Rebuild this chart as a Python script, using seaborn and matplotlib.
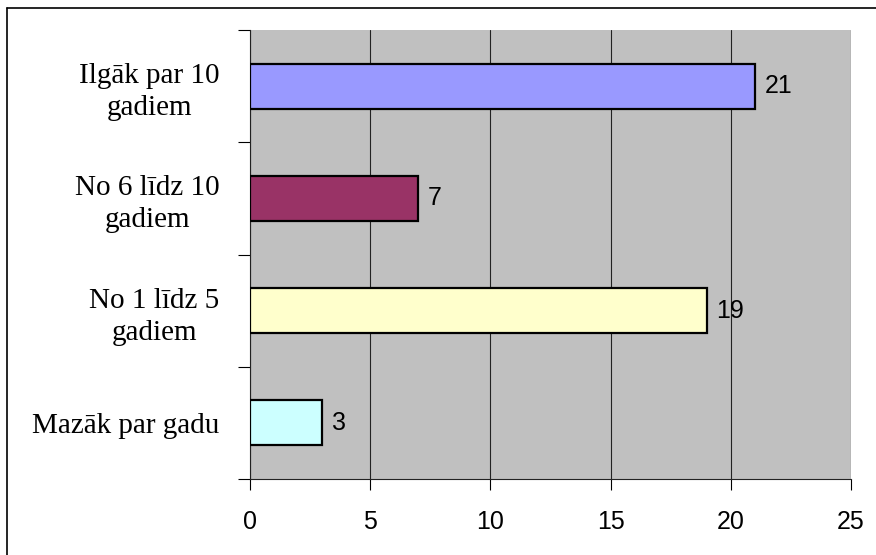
import matplotlib
matplotlib.use("Agg")
import matplotlib.pyplot as plt
import seaborn as sns
import pandas as pd
from matplotlib.lines import Line2D

categories = ["Ilgāk par 10\ngadiem", "No 6 līdz 10\ngadiem", "No 1 līdz 5\ngadiem", "Mazāk par gadu"]
values = [21, 7, 19, 3]
bar_colors = ["#9999FF", "#993366", "#FFFFCC", "#CCFFFF"]
x_ticks = [0, 5, 10, 15, 20, 25]

df = pd.DataFrame({"Category": categories, "Count": values})

sns.set_style("white")
plt.rcParams["font.family"] = ["Liberation Sans", "DejaVu Sans"]
plt.rcParams["text.color"] = "black"
plt.rcParams["xtick.color"] = "black"
plt.rcParams["ytick.color"] = "black"

fig = plt.figure(figsize=(8.76, 5.55), dpi=100)
ax = fig.add_axes([250 / 876, 76 / 555, 601 / 876, 449 / 555])
ax.set_facecolor("#C0C0C0")

sns.barplot(
    data=df,
    x="Count",
    y="Category",
    hue="Category",
    palette=bar_colors,
    saturation=1,
    orient="h",
    width=0.4,
    edgecolor="black",
    linewidth=1.6,
    legend=False,
    ax=ax,
    zorder=3,
)

ax.set_xlim(0, 25)
ax.set_ylim(3.5, -0.5)
ax.set_xticks(x_ticks)
ax.set_xticklabels([str(t) for t in x_ticks], fontsize=18, color="black")
ax.grid(axis="x", color="#222222", linewidth=0.8, zorder=0)
ax.set_axisbelow(True)
ax.set_xlabel("")
ax.set_ylabel("")

# category labels in serif, ticks at category boundaries
ax.set_yticks(range(len(categories)))
ax.set_yticklabels(categories, family="Liberation Serif", fontsize=21,
                   multialignment="center", linespacing=1.3, color="black")
ax.tick_params(axis="y", length=0, pad=22)
ax.set_yticks([-0.5, 0.5, 1.5, 2.5, 3.5], minor=True)
ax.tick_params(axis="y", which="minor", length=9, width=0.8, direction="out", left=True)
ax.tick_params(axis="x", length=8, width=0.8, direction="out", bottom=True, pad=14)

for side in ["top", "right"]:
    ax.spines[side].set_visible(False)
for side in ["left", "bottom"]:
    ax.spines[side].set_color("#222222")
    ax.spines[side].set_linewidth(0.8)

for container in ax.containers:
    ax.bar_label(container, padding=7, fontsize=18, color="black")

# outer frame (only left and top edges fall inside the picture)
fig.add_artist(Line2D([7 / 876, 7 / 876], [0, 1 - 8 / 555], color="black", linewidth=1.2))
fig.add_artist(Line2D([7 / 876, 1], [1 - 8 / 555, 1 - 8 / 555], color="black", linewidth=1.2))

fig.savefig("out.png", dpi=100)
